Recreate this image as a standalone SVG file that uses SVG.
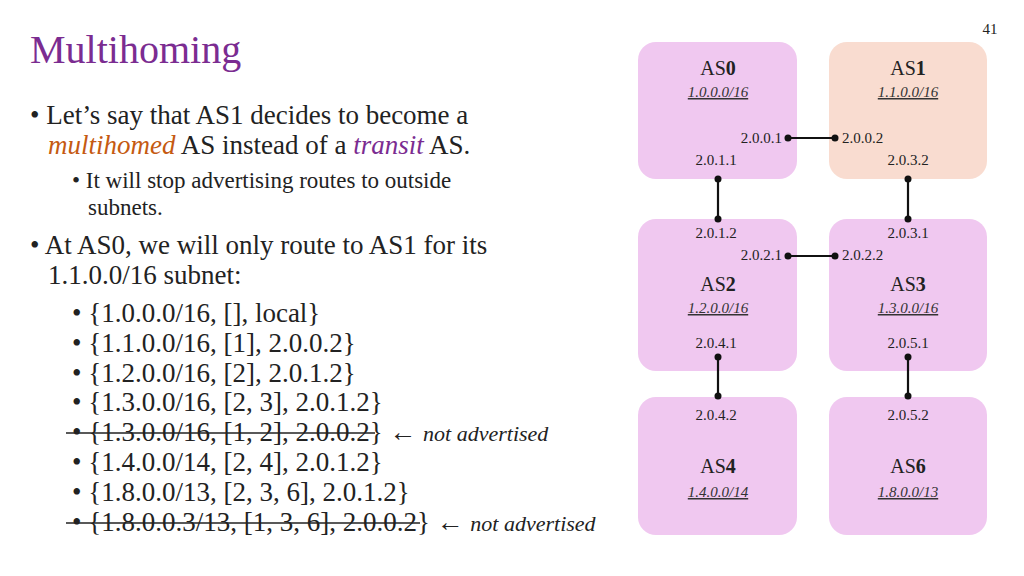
<svg xmlns="http://www.w3.org/2000/svg" width="1024" height="576" viewBox="0 0 1024 576" font-family="'Liberation Serif', 'DejaVu Serif', serif">
<style>
text{font-family:'Liberation Serif','DejaVu Serif',serif;fill:#222}
.b{font-size:27px}.s{font-size:23px}.n{font-size:20px;text-anchor:middle}
.sub{font-size:15px;font-style:italic;text-decoration:underline;text-anchor:middle;fill:#333}
.ip{font-size:15px}.c{text-anchor:middle}.r{text-anchor:end}
.box{fill:#F0C8F0}.l{stroke:#111;stroke-width:2.2}
.st{stroke:#222;stroke-width:1.5}
</style>
<rect width="1024" height="576" fill="#fff"/>
<text x="990" y="34" font-size="15" class="c">41</text>
<text x="30" y="63" font-size="40" style="fill:#7B2C91">Multihoming</text>
<g id="text">
<text x="30" y="124" class="b">• Let’s say that AS1 decides to become a</text>
<text x="48" y="154" class="b"><tspan font-style="italic" style="fill:#C55A11">multihomed</tspan> AS instead of a <tspan font-style="italic" style="fill:#7B2C91">transit</tspan> AS.</text>
<text x="72" y="188" class="s">• It will stop advertising routes to outside</text>
<text x="88" y="215" class="s">subnets.</text>
<text x="30" y="254" class="b">• At AS0, we will only route to AS1 for its</text>
<text x="48" y="284" class="b">1.1.0.0/16 subnet:</text>
<text x="72" y="322" class="b">• {1.0.0.0/16, [], local}</text>
<text x="72" y="352" class="b">• {1.1.0.0/16, [1], 2.0.0.2}</text>
<text x="72" y="382" class="b">• {1.2.0.0/16, [2], 2.0.1.2}</text>
<text x="72" y="411" class="b">• {1.3.0.0/16, [2, 3], 2.0.1.2}</text>
<text x="72" y="441" class="b">• {1.3.0.0/16, [1, 2], 2.0.0.2} <tspan>←</tspan> <tspan font-style="italic" font-size="22">not advertised</tspan></text>
<line x1="66" y1="433" x2="375" y2="433" class="st"/>
<text x="72" y="471" class="b">• {1.4.0.0/14, [2, 4], 2.0.1.2}</text>
<text x="72" y="501" class="b">• {1.8.0.0/13, [2, 3, 6], 2.0.1.2}</text>
<text x="72" y="531" class="b">• {1.8.0.0.3/13, [1, 3, 6], 2.0.0.2} <tspan>←</tspan> <tspan font-style="italic" font-size="22">not advertised</tspan></text>
<line x1="66" y1="523" x2="420" y2="523" class="st"/>
</g>
<g id="as0"><rect class="box" x="638" y="42" width="159" height="137" rx="18"/>
<text x="718" y="75" class="n">AS<tspan font-weight="bold">0</tspan></text>
<text x="718" y="97" class="sub">1.0.0.0/16</text>
<text x="782" y="143" class="ip r">2.0.0.1</text><text x="716" y="165" class="ip c">2.0.1.1</text></g>
<g id="as1"><rect x="829" y="42" width="158" height="137" rx="18" fill="#F9DCD0"/>
<text x="908" y="75" class="n">AS<tspan font-weight="bold">1</tspan></text>
<text x="908" y="97" class="sub">1.1.0.0/16</text>
<text x="842" y="143" class="ip">2.0.0.2</text><text x="908" y="165" class="ip c">2.0.3.2</text></g>
<g id="as2"><rect class="box" x="638" y="219" width="159" height="152" rx="18"/>
<text x="716" y="238" class="ip c">2.0.1.2</text><text x="782" y="260" class="ip r">2.0.2.1</text>
<text x="718" y="291" class="n">AS<tspan font-weight="bold">2</tspan></text>
<text x="718" y="313" class="sub">1.2.0.0/16</text>
<text x="716" y="348" class="ip c">2.0.4.1</text></g>
<g id="as3"><rect class="box" x="829" y="219" width="158" height="152" rx="18"/>
<text x="908" y="238" class="ip c">2.0.3.1</text><text x="842" y="260" class="ip">2.0.2.2</text>
<text x="908" y="291" class="n">AS<tspan font-weight="bold">3</tspan></text>
<text x="908" y="313" class="sub">1.3.0.0/16</text>
<text x="908" y="348" class="ip c">2.0.5.1</text></g>
<g id="as4"><rect class="box" x="638" y="397" width="159" height="138" rx="18"/>
<text x="716" y="420" class="ip c">2.0.4.2</text>
<text x="718" y="473" class="n">AS<tspan font-weight="bold">4</tspan></text>
<text x="718" y="497" class="sub">1.4.0.0/14</text></g>
<g id="as6"><rect class="box" x="829" y="397" width="158" height="138" rx="18"/>
<text x="908" y="420" class="ip c">2.0.5.2</text>
<text x="908" y="473" class="n">AS<tspan font-weight="bold">6</tspan></text>
<text x="908" y="497" class="sub">1.8.0.0/13</text></g>
<g id="connectors" fill="#111">
<line class="l" x1="788" y1="138" x2="835" y2="138"/><circle cx="788" cy="138" r="3.5"/><circle cx="835" cy="138" r="3.5"/>
<line class="l" x1="788" y1="256" x2="835" y2="256"/><circle cx="788" cy="256" r="3.5"/><circle cx="835" cy="256" r="3.5"/>
<line class="l" x1="718" y1="179" x2="718" y2="219"/><circle cx="718" cy="179" r="3.5"/><circle cx="718" cy="219" r="3.5"/>
<line class="l" x1="908" y1="179" x2="908" y2="219"/><circle cx="908" cy="179" r="3.5"/><circle cx="908" cy="219" r="3.5"/>
<line class="l" x1="718" y1="357" x2="718" y2="396"/><circle cx="718" cy="357" r="3.5"/><circle cx="718" cy="396" r="3.5"/>
<line class="l" x1="908" y1="357" x2="908" y2="396"/><circle cx="908" cy="357" r="3.5"/><circle cx="908" cy="396" r="3.5"/>
</g>
</svg>
